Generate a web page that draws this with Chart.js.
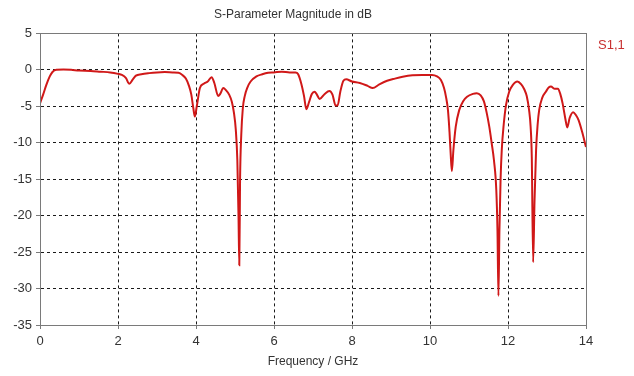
<!DOCTYPE html>
<html>
<head>
<meta charset="utf-8">
<script src="https://cdn.jsdelivr.net/npm/chart.js@4/dist/chart.umd.min.js"></script>
<style>
  html, body { margin: 0; padding: 0; background: #ffffff; }
  #wrap { width: 634px; height: 376px; }
</style>
</head>
<body>
<div id="wrap"><canvas id="c" width="634" height="376"></canvas></div>
<script>
// Reflection coefficient S1,1 versus frequency
const freqGHz = [
  0.00, 0.08, 0.16, 0.25, 0.32, 0.42, 0.60, 0.80, 1.00, 1.30,
  1.55, 1.80, 2.00, 2.10, 2.20, 2.29, 2.38, 2.46, 2.60, 2.80,
  3.00, 3.20, 3.40, 3.55, 3.65, 3.74, 3.82, 3.88, 3.93, 3.97,
  4.02, 4.10, 4.20, 4.30, 4.40, 4.47, 4.57, 4.62, 4.70, 4.77,
  4.85, 4.92, 4.97, 5.02, 5.06, 5.09, 5.11, 5.13, 5.16, 5.20,
  5.25, 5.32, 5.40, 5.55, 5.70, 5.85, 6.00, 6.20, 6.40, 6.55,
  6.62, 6.70, 6.77, 6.83, 6.90, 6.97, 7.04, 7.10, 7.17, 7.30,
  7.42, 7.50, 7.58, 7.63, 7.70, 7.78, 7.85, 8.00, 8.20, 8.40,
  8.53, 8.70, 8.90, 9.10, 9.30, 9.55, 9.80, 10.05, 10.18, 10.28,
  10.36, 10.41, 10.46, 10.50, 10.53, 10.56, 10.60, 10.66, 10.75, 10.85,
  10.95, 11.10, 11.20, 11.30, 11.38, 11.45, 11.52, 11.58, 11.64, 11.70,
  11.73, 11.755, 11.78, 11.81, 11.84, 11.89, 11.95, 12.03, 12.12, 12.24,
  12.34, 12.42, 12.48, 12.54, 12.58, 12.61, 12.645, 12.68, 12.72, 12.76,
  12.80, 12.88, 12.97, 13.05, 13.10, 13.20, 13.28, 13.34, 13.40, 13.47,
  13.52, 13.58, 13.67, 13.74, 13.81, 13.90, 14.00
];
const s11dB = [
  -4.6, -3.4, -2.1, -0.9, -0.3, 0.0, 0.05, 0.0, -0.1, -0.15,
  -0.25, -0.35, -0.55, -0.7, -1.1, -1.9, -1.3, -0.8, -0.6, -0.45,
  -0.35, -0.3, -0.35, -0.4, -0.7, -1.2, -2.2, -3.4, -5.2, -6.4,
  -5.0, -2.5, -1.9, -1.6, -1.0, -1.8, -3.6, -3.3, -2.5, -2.8,
  -3.4, -4.4, -5.8, -8.2, -12.4, -20.0, -26.8, -15.0, -9.0, -5.3,
  -3.6, -2.4, -1.6, -0.9, -0.6, -0.4, -0.35, -0.25, -0.35, -0.35,
  -0.6, -1.9, -3.6, -5.4, -4.4, -3.3, -3.0, -3.4, -4.0, -3.3,
  -2.9, -3.4, -4.9, -4.9, -3.0, -1.5, -1.3, -1.6, -1.8, -2.2,
  -2.5, -2.0, -1.5, -1.2, -0.95, -0.75, -0.7, -0.7, -0.9, -1.4,
  -2.5, -3.7, -5.5, -8.5, -11.5, -13.9, -11.0, -7.8, -5.5, -4.3,
  -3.7, -3.3, -3.2, -3.5, -4.3, -5.8, -7.8, -10.0, -12.4, -16.5,
  -22.0, -31.0, -22.0, -15.0, -11.0, -7.5, -4.8, -3.0, -2.1, -1.6,
  -2.0, -2.7, -3.6, -5.5, -7.8, -12.0, -26.4, -18.0, -11.0, -7.5,
  -5.5, -3.8, -3.0, -2.4, -2.3, -2.6, -2.6, -3.3, -4.6, -6.7,
  -7.9, -6.6, -5.8, -6.2, -6.9, -8.5, -10.6
];
const xTicks = [0, 2, 4, 6, 8, 10, 12, 14];
const yTicks = [5, 0, -5, -10, -15, -20, -25, -30, -35];
const seriesName = 'S1,1';
const chartTitle = 'S-Parameter Magnitude in dB';
const xTitle = 'Frequency / GHz';

const FONT = 'Liberation Sans';
const TEXT = '#333333';
const GRID = '#1a1a1a';
const FRAME = '#7a7a7a';
const LINE = '#d01818';

const points = freqGHz.map((f, i) => ({ x: f, y: s11dB[i] }));

// frame around the plot area and the series name at the upper right
const framePlugin = {
  id: 'frame',
  afterDraw(chart) {
    const { ctx, chartArea: a } = chart;
    ctx.save();
    ctx.strokeStyle = FRAME;
    ctx.lineWidth = 1;
    ctx.strokeRect(Math.round(a.left) + 0.5, Math.round(a.top) + 0.5,
                   Math.round(a.right - a.left), Math.round(a.bottom - a.top));
    ctx.fillStyle = '#c83030';
    ctx.font = '13px "' + FONT + '"';
    ctx.textAlign = 'left';
    ctx.textBaseline = 'middle';
    ctx.fillText(chart.data.datasets[0].label, a.right + 12, a.top + 12);
    ctx.restore();
  }
};

const edgeX = (v) => v === xTicks[0] || v === xTicks[xTicks.length - 1];
const edgeY = (v) => v === yTicks[0] || v === yTicks[yTicks.length - 1];

new Chart(document.getElementById('c'), {
  type: 'scatter',
  data: {
    datasets: [{
      label: seriesName,
      data: points,
      showLine: true,
      borderColor: LINE,
      borderWidth: 2,
      pointRadius: 0,
      cubicInterpolationMode: 'monotone',
      fill: false
    }]
  },
  options: {
    responsive: false,
    animation: false,
    layout: { padding: { left: 0, right: 48, top: 0, bottom: 0 } },
    plugins: {
      legend: { display: false },
      tooltip: { enabled: false },
      title: {
        display: true,
        text: chartTitle,
        color: TEXT,
        font: { family: FONT, size: 12, weight: 'normal' },
        padding: { top: 7, bottom: 12 }
      }
    },
    scales: {
      x: {
        type: 'linear',
        min: 0, max: 14,
        afterBuildTicks: (s) => { s.ticks = xTicks.map(v => ({ value: v })); },
        afterFit: (s) => { s.height = 51; },
        ticks: { color: TEXT, font: { family: FONT, size: 13 }, padding: 5, maxRotation: 0 },
        grid: {
          color: (c) => edgeX(c.tick && c.tick.value) ? 'rgba(0,0,0,0)' : GRID,
          tickColor: FRAME,
          tickLength: 4,
          lineWidth: 1
        },
        border: { display: true, color: FRAME, dash: [3, 3] },
        title: {
          display: true, text: xTitle, color: TEXT,
          font: { family: FONT, size: 12 },
          padding: { top: 0, bottom: 7 }
        }
      },
      y: {
        type: 'linear',
        min: -35, max: 5,
        afterBuildTicks: (s) => { s.ticks = yTicks.map(v => ({ value: v })); },
        afterFit: (s) => { s.width = 40; },
        ticks: { color: TEXT, font: { family: FONT, size: 13 }, padding: 4 },
        grid: {
          color: (c) => edgeY(c.tick && c.tick.value) ? 'rgba(0,0,0,0)' : GRID,
          tickColor: FRAME,
          tickLength: 4,
          lineWidth: 1
        },
        border: { display: true, color: FRAME, dash: [3, 3] }
      }
    }
  },
  plugins: [framePlugin]
});
</script>
</body>
</html>
